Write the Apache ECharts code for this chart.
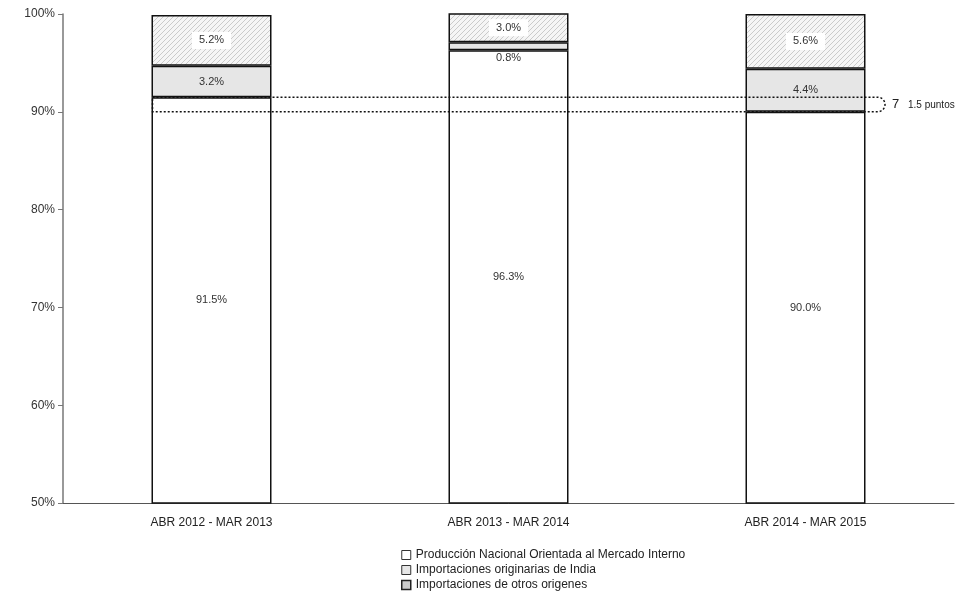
<!DOCTYPE html>
<html><head><meta charset="utf-8">
<script src="https://cdn.jsdelivr.net/npm/echarts@6/dist/echarts.min.js"></script>
<style>html,body{margin:0;padding:0;background:#fff}#c{width:972px;height:600px}</style>
</head><body><div id="c"></div>
<script>
const categories = ['ABR 2012 - MAR 2013', 'ABR 2013 - MAR 2014', 'ABR 2014 - MAR 2015'];
const nacional = [91.5, 96.3, 90.0];
const india = [3.2, 0.8, 4.4];
const otros = [5.2, 3.0, 5.6];
const yTicks = [50, 60, 70, 80, 90, 100];
const seriesNames = ['Producción Nacional Orientada al Mercado Interno', 'Importaciones originarias de India', 'Importaciones de otros origenes'];
const annotation = {from: 90.0, to: 91.5, text: '1.5 puntos'};

const pc = document.createElement('canvas');
pc.width = 5; pc.height = 5;
const g = pc.getContext('2d');
g.fillStyle = '#f5f5f5'; g.fillRect(0,0,5,5);
g.strokeStyle = '#cacaca'; g.lineWidth = 1;
g.beginPath(); g.moveTo(0,5); g.lineTo(5,0); g.moveTo(-2.5,2.5); g.lineTo(2.5,-2.5); g.moveTo(2.5,7.5); g.lineTo(7.5,2.5); g.stroke();
const hatch = {image: pc, repeat: 'repeat'};

const font = 'Liberation Sans';
const chart = echarts.init(document.getElementById('c'));
const lbl = {show: true, position: 'inside', color: '#333', fontSize: 11, fontFamily: font, formatter: p => p.value.toFixed(1) + '%'};
chart.setOption({
  animation: false,
  grid: {left: 63, right: 18, top: 14, bottom: 97},
  legend: {
    orient: 'vertical', left: 396, top: 544, itemGap: 3, itemWidth: 9, itemHeight: 9,
    textStyle: {fontSize: 12, fontFamily: font, color: '#222'},
    data: [
      {name: seriesNames[0], icon: 'rect', itemStyle: {color: '#fff', borderColor: '#333', borderWidth: 1}},
      {name: seriesNames[1], icon: 'rect', itemStyle: {color: '#e6e6e6', borderColor: '#333', borderWidth: 1}},
      {name: seriesNames[2], icon: 'rect', itemStyle: {color: '#ccc', borderColor: '#222', borderWidth: 1.5}}
    ]
  },
  xAxis: {
    type: 'category', data: categories,
    axisLine: {lineStyle: {color: '#555', width: 1}},
    axisTick: {show: false},
    axisLabel: {color: '#222', fontSize: 12, fontFamily: font, margin: 14}
  },
  yAxis: {
    type: 'value', min: 50, max: 100, interval: 10,
    splitLine: {show: false},
    axisLine: {show: true, lineStyle: {color: '#777', width: 1.5}},
    axisTick: {show: true, inside: false, length: 5, lineStyle: {color: '#777'}},
    axisLabel: {color: '#333', fontSize: 12, fontFamily: font, margin: 8, formatter: v => yTicks.includes(v) ? v + '%' : ''}
  },
  series: [
    {name: seriesNames[0], type: 'bar', stack: 's', barWidth: 120, data: nacional,
      itemStyle: {color: '#fff', borderColor: '#111', borderWidth: 1.5}, label: lbl},
    {name: seriesNames[1], type: 'bar', stack: 's', barWidth: 120,
      data: india.map((v, i) => v < 2 ? {value: v, label: {position: 'bottom', distance: 2}} : v),
      itemStyle: {color: '#e6e6e6', borderColor: '#111', borderWidth: 1.5}, label: lbl},
    {name: seriesNames[2], type: 'bar', stack: 's', barWidth: 120, data: otros,
      itemStyle: {color: hatch, borderColor: '#111', borderWidth: 1.5},
      label: Object.assign({}, lbl, {backgroundColor: '#fff', padding: [3, 7]})}
  ]
});

function drawAnnotation() {
  const pTop = chart.convertToPixel({gridIndex: 0}, [0, annotation.to]);
  const pBot = chart.convertToPixel({gridIndex: 0}, [0, annotation.from]);
  const left = pTop[0] - 59;
  const right = 885;
  chart.setOption({graphic: [
    {type: 'rect', shape: {x: left, y: pTop[1], width: right - left, height: pBot[1] - pTop[1], r: [0, 8, 8, 0]},
      style: {fill: 'none', stroke: '#111', lineWidth: 1.5, lineDash: [2, 2]}, z: 100},
    {type: 'text', x: right + 7, y: (pTop[1] + pBot[1]) / 2, style: {text: '7', fill: '#222', fontSize: 13, fontFamily: font, verticalAlign: 'middle'}, z: 100},
    {type: 'text', x: right + 23, y: (pTop[1] + pBot[1]) / 2 + 1, style: {text: annotation.text, fill: '#222', fontSize: 10, fontFamily: font, verticalAlign: 'middle'}, z: 100}
  ]});
}
drawAnnotation();
</script></body></html>
